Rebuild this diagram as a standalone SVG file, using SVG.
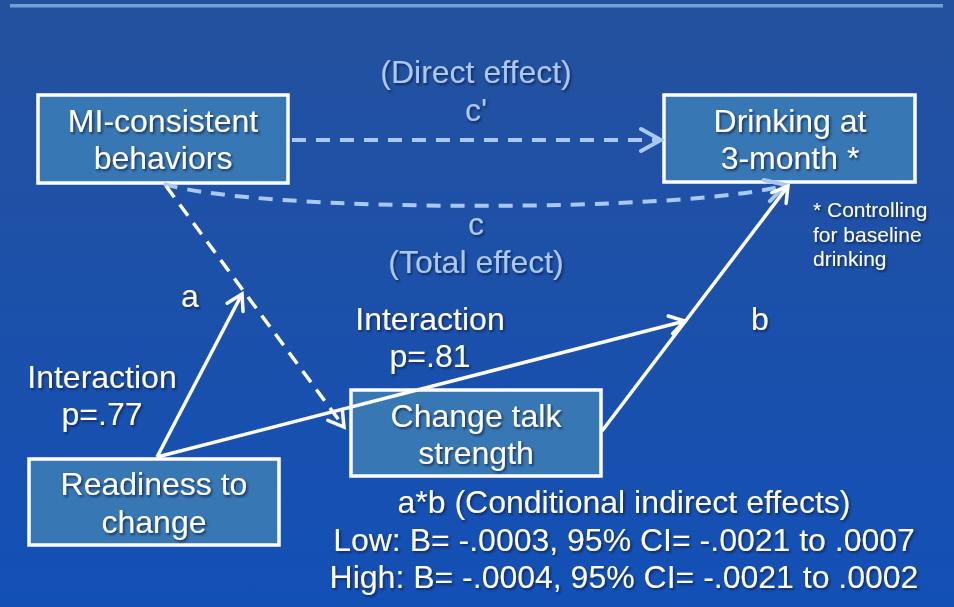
<svg xmlns="http://www.w3.org/2000/svg" width="954" height="607" viewBox="0 0 954 607">
<defs>
<linearGradient id="bg" x1="0" y1="0" x2="0" y2="1">
<stop offset="0" stop-color="#24519E"/>
<stop offset="1" stop-color="#1350B6"/>
</linearGradient>
<filter id="sh" x="-10%" y="-20%" width="120%" height="150%">
<feDropShadow dx="1.5" dy="1.8" stdDeviation="0.8" flood-color="#0A1A40" flood-opacity="0.75"/>
</filter>
<marker id="arrW" markerUnits="userSpaceOnUse" viewBox="-20 -12 24 24" markerWidth="24" markerHeight="24" refX="0" refY="0" orient="auto">
<path d="M-15,-9 L0,0 L-15,9" fill="none" stroke="#FFFFFF" stroke-width="3.5" stroke-linecap="round" stroke-linejoin="miter"/>
</marker>
<marker id="arrB" markerUnits="userSpaceOnUse" viewBox="-24 -14 28 28" markerWidth="28" markerHeight="28" refX="0" refY="0" orient="auto">
<path d="M-20,-11 L0,0 L-20,11" fill="none" stroke="#A9C8F2" stroke-width="4" stroke-linecap="round"/>
</marker>
</defs>
<style>
.box{fill:#3777B3;stroke:#FFFFFF;stroke-width:3.5}
.t{font-family:"Liberation Sans",Arial,sans-serif;font-size:32px;fill:#FFFFFF;text-anchor:middle;filter:url(#sh)}
.lb{fill:#A9C8F2}
.note{font-family:"Liberation Sans",Arial,sans-serif;font-size:21px;fill:#FFFFFF;filter:url(#sh)}
.dB{fill:none;stroke:#A9C8F2;stroke-width:4;stroke-dasharray:14 10}
.dW{fill:none;stroke:#FFFFFF;stroke-width:3.5;stroke-dasharray:14 9}
.sW{fill:none;stroke:#FFFFFF;stroke-width:3.5}
</style>
<rect x="0" y="0" width="954" height="607" fill="url(#bg)"/>
<rect x="10" y="4" width="933" height="3.5" fill="#6EA2D8"/>

<g id="node-mi">
<rect class="box" x="38" y="95" width="250" height="88"/>
<text class="t" x="163" y="132">MI-consistent</text>
<text class="t" x="163" y="169">behaviors</text>
</g>
<g id="node-drinking">
<rect class="box" x="664" y="95" width="251" height="87"/>
<text class="t" x="790" y="132">Drinking at</text>
<text class="t" x="790" y="169">3-month *</text>
</g>
<g id="node-readiness">
<rect class="box" x="29" y="459" width="250" height="86"/>
<text class="t" x="154" y="495">Readiness to</text>
<text class="t" x="154" y="533">change</text>
</g>
<g id="node-changetalk">
<rect class="box" x="351" y="390" width="250" height="86"/>
<text class="t" x="476" y="427">Change talk</text>
<text class="t" x="476" y="464">strength</text>
</g>

<g id="connectors">
<line class="dB" x1="292" y1="140" x2="661" y2="140" marker-end="url(#arrB)"/>
<path class="dB" d="M164,184 C260,213 690,213 786,185" marker-end="url(#arrB)"/>
<line class="dW" x1="166" y1="186" x2="344" y2="427" marker-end="url(#arrW)"/>
<line class="sW" x1="157" y1="457" x2="242" y2="294" marker-end="url(#arrW)"/>
<line class="sW" x1="157" y1="457" x2="685" y2="321" marker-end="url(#arrW)"/>
<line class="sW" x1="602" y1="431" x2="788" y2="186" marker-end="url(#arrW)"/>
</g>

<g id="labels">
<text class="t lb" x="476" y="83">(Direct effect)</text>
<text class="t lb" x="476" y="121">c'</text>
<text class="t lb" x="476" y="235">c</text>
<text class="t lb" x="476" y="273">(Total effect)</text>
<text class="t" x="190" y="307">a</text>
<text class="t" x="760" y="330">b</text>
<text class="t" x="102" y="388">Interaction</text>
<text class="t" x="102" y="425">p=.77</text>
<text class="t" x="430" y="330">Interaction</text>
<text class="t" x="430" y="367">p=.81</text>
<text class="note" x="813" y="217">* Controlling</text>
<text class="note" x="813" y="242">for baseline</text>
<text class="note" x="813" y="266">drinking</text>
<text class="t" x="624" y="513">a*b (Conditional indirect effects)</text>
<text class="t" x="624" y="551">Low: B= -.0003, 95% CI= -.0021 to .0007</text>
<text class="t" x="624" y="588">High: B= -.0004, 95% CI= -.0021 to .0002</text>
</g>
</svg>
